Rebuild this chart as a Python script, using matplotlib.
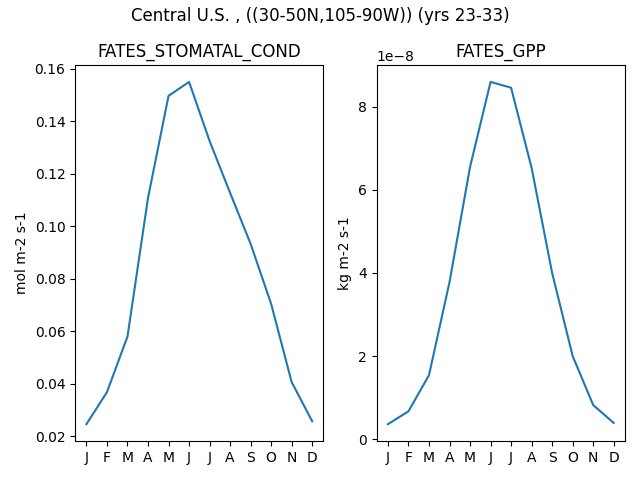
import matplotlib
matplotlib.use("Agg")
import matplotlib.pyplot as plt

months = ['J', 'F', 'M', 'A', 'M', 'J', 'J', 'A', 'S', 'O', 'N', 'D']
stomatal_cond = [0.0246, 0.0368, 0.058, 0.1108, 0.1497, 0.155,
                 0.1325, 0.1127, 0.0933, 0.0704, 0.0406, 0.0257]
gpp = [0.36e-8, 0.67e-8, 1.54e-8, 3.78e-8, 6.55e-8, 8.6e-8,
       8.46e-8, 6.53e-8, 4.0e-8, 2.0e-8, 0.82e-8, 0.39e-8]

fig, axs = plt.subplots(1, 2, figsize=(6.4, 4.8))
fig.suptitle('Central U.S. , ((30-50N,105-90W)) (yrs 23-33)', y=0.985)

x = range(len(months))
axs[0].plot(x, stomatal_cond)
axs[0].set_title('FATES_STOMATAL_COND')
axs[0].set_ylabel('mol m-2 s-1')
axs[0].set_xticks(list(x))
axs[0].set_xticklabels(months)

axs[1].plot(x, gpp)
axs[1].set_title('FATES_GPP')
axs[1].set_ylabel('kg m-2 s-1')
axs[1].set_xticks(list(x))
axs[1].set_xticklabels(months)

fig.tight_layout()
fig.subplots_adjust(top=0.865)
fig.savefig('out.png', dpi=100)
